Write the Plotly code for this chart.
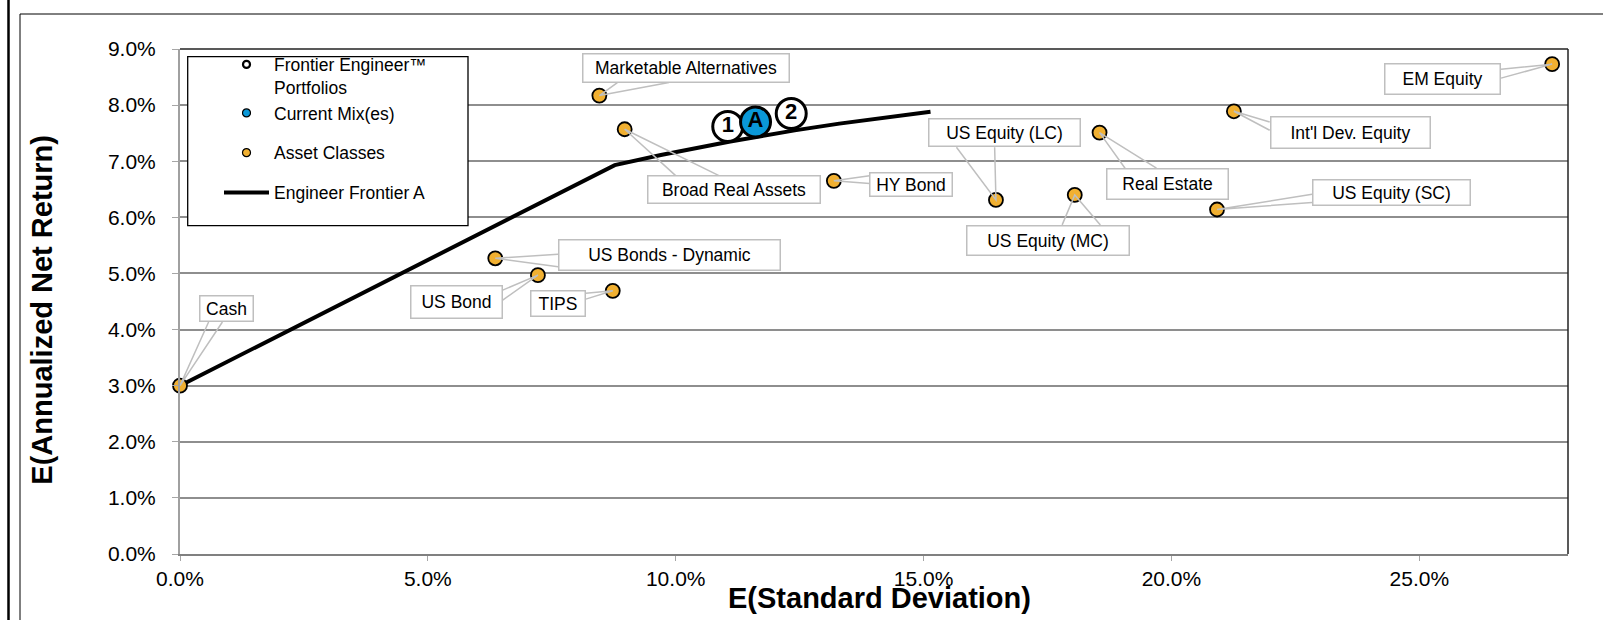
import plotly.graph_objects as go

# ---------------- data ----------------
asset_names = ["Cash", "US Bond", "US Bonds - Dynamic", "TIPS", "Marketable Alternatives",
               "Broad Real Assets", "HY Bond", "US Equity (LC)", "US Equity (MC)",
               "Real Estate", "US Equity (SC)", "Int'l Dev. Equity", "EM Equity"]
asset_sd = [0.0000, 0.0722, 0.0636, 0.0873, 0.0846, 0.0897, 0.1319, 0.1646, 0.1805,
            0.1855, 0.2092, 0.2126, 0.2768]
asset_ret = [0.0300, 0.0497, 0.0527, 0.0469, 0.0817, 0.0757, 0.0665, 0.0631, 0.0640,
             0.0751, 0.0614, 0.0789, 0.0873]

portfolio_labels = ["1", "2"]
portfolio_sd = [0.1105, 0.1233]
portfolio_ret = [0.0762, 0.0785]

mix_labels = ["A"]
mix_sd = [0.1161]
mix_ret = [0.0770]

frontier_sd = [0.0000, 0.0877, 0.0970, 0.1110, 0.1240, 0.1330, 0.1514]
frontier_ret = [0.0300, 0.0693, 0.0711, 0.0735, 0.0755, 0.0767, 0.0788]

legend_names = ["Frontier Engineer™<br>Portfolios", "Current Mix(es)", "Asset Classes",
                "Engineer Frontier A<br> "]

x_title = "E(Standard Deviation)"
y_title = "E(Annualized Net Return)"

# ---------------- styling / layout (pixel offsets for callouts) ----------------
ORANGE = "#F1B031"
BLUE = "#0A98D8"
FONT = "Liberation Sans, Arial, sans-serif"

# label box: centre offset (dx, dy screen px), box size (w, h), wedge base points (screen px)
callouts = {
    "Cash": ((46.9, -77.0), (55, 27), ((28.6, -63.7), (42.4, -63.7))),
    "US Bond": ((-81.6, 27.0), (93, 34), ((-35.2, 15.0), (-35.2, 25.0))),
    "US Bonds - Dynamic": ((174.2, -3.3), (223, 32), ((62.8, -4.0), (62.8, 8.4))),
    "TIPS": ((-54.8, 12.2), (56, 27), ((-27.0, 2.3), (-27.0, 8.3))),
    "Marketable Alternatives": ((86.8, -27.8), (208, 30), ((18.0, -13.0), (69.6, -13.0))),
    "Broad Real Assets": ((109.7, 60.5), (174, 29), ((51.0, 46.4), (94.3, 46.4))),
    "HY Bond": ((77.5, 3.5), (84, 25), ((35.7, -5.0), (35.7, 2.6))),
    "US Equity (LC)": ((8.8, -67.2), (153, 29), ((-39.5, -52.7), (-1.3, -52.7))),
    "US Equity (MC)": ((-27.2, 45.5), (164, 31), ((-12.6, 30.0), (25.6, 30.0))),
    "Real Estate": ((67.9, 51.5), (123, 32), ((25.5, 35.6), (56.9, 35.6))),
    "US Equity (SC)": ((174.7, -16.8), (159, 27), ((95.1, -15.3), (95.1, -7.0))),
    "Int'l Dev. Equity": ((116.6, 21.5), (161, 33), ((35.8, 10.7), (35.8, 19.0))),
    "EM Equity": ((-109.4, 15.2), (117, 32), ((-51.1, 5.0), (-51.1, 14.0))),
}

W, H = 1603, 620
ML, MR, MT, MB = 180, 35, 49, 66
PW, PH = W - ML - MR, H - MT - MB


def px_to_paper_x(px):
    return (px - ML) / PW


def px_to_paper_y(py):
    return (H - MB - py) / PH


fig = go.Figure()

# frontier line
fig.add_trace(go.Scatter(x=frontier_sd, y=frontier_ret, mode="lines",
                         line=dict(color="black", width=4), showlegend=False,
                         hoverinfo="skip"))

# asset classes
fig.add_trace(go.Scatter(x=asset_sd, y=asset_ret, mode="markers", text=asset_names,
                         marker=dict(size=14, color=ORANGE, line=dict(color="black", width=1.8)),
                         showlegend=False, cliponaxis=False))

# portfolios
fig.add_trace(go.Scatter(x=portfolio_sd, y=portfolio_ret, mode="markers+text",
                         text=portfolio_labels, textposition="middle center",
                         textfont=dict(family=FONT, size=22, color="black", weight="bold"),
                         marker=dict(size=30, color="white", line=dict(color="black", width=3)),
                         showlegend=False))

# current mix
fig.add_trace(go.Scatter(x=mix_sd, y=mix_ret, mode="markers+text",
                         text=mix_labels, textposition="middle center",
                         textfont=dict(family=FONT, size=22, color="black", weight="bold"),
                         marker=dict(size=30, color=BLUE, line=dict(color="black", width=3)),
                         showlegend=False))

# legend proxies
fig.add_trace(go.Scatter(x=[None], y=[None], mode="markers", name=legend_names[0],
                         legendgroup="g1",
                         marker=dict(size=7, color="white", line=dict(color="black", width=2.2))))
fig.add_trace(go.Scatter(x=[None], y=[None], mode="markers", name=legend_names[1],
                         legendgroup="g1",
                         marker=dict(size=8, color=BLUE, line=dict(color="black", width=1.2))))
fig.add_trace(go.Scatter(x=[None], y=[None], mode="markers", name=legend_names[2],
                         legendgroup="g2",
                         marker=dict(size=8, color=ORANGE, line=dict(color="black", width=1.2))))
fig.add_trace(go.Scatter(x=[None], y=[None], mode="lines", name=legend_names[3],
                         legendgroup="g3", line=dict(color="black", width=4)))

shapes = []
annotations = []

# callouts
for name, sd, ret in zip(asset_names, asset_sd, asset_ret):
    (dx, dy), (bw, bh), (a, b) = callouts[name]
    shapes.append(dict(type="path", xref="x", yref="y", xsizemode="pixel", ysizemode="pixel",
                       xanchor=sd, yanchor=ret, layer="above",
                       path=f"M{a[0]},{-a[1]} L0,0 L{b[0]},{-b[1]}",
                       line=dict(color="#BFBFBF", width=1.5)))
    annotations.append(dict(x=sd, y=ret, xref="x", yref="y", text=name, showarrow=False,
                            xshift=dx, yshift=-dy, width=bw - 3, height=bh - 3,
                            align="center", valign="middle",
                            bgcolor="white", bordercolor="#BFBFBF", borderwidth=1.5,
                            borderpad=0, font=dict(family=FONT, size=17.5, color="black")))

# legend box
shapes.append(dict(type="rect", xref="paper", yref="paper",
                   x0=px_to_paper_x(187.7), x1=px_to_paper_x(468),
                   y0=px_to_paper_y(225.7), y1=px_to_paper_y(56.7),
                   fillcolor="white", line=dict(color="black", width=1.3), layer="above"))

# plot area top and right borders
shapes.append(dict(type="line", xref="paper", yref="paper", x0=0, x1=1, y0=1, y1=1,
                   line=dict(color="#222222", width=1.5), layer="above"))
shapes.append(dict(type="line", xref="paper", yref="paper", x0=1, x1=1, y0=0, y1=1,
                   line=dict(color="#222222", width=1.5), layer="above"))

# outer chart frame
shapes.append(dict(type="line", xref="paper", yref="paper",
                   x0=px_to_paper_x(8.5), x1=px_to_paper_x(8.5),
                   y0=px_to_paper_y(0), y1=px_to_paper_y(H),
                   line=dict(color="black", width=2.5)))
shapes.append(dict(type="line", xref="paper", yref="paper",
                   x0=px_to_paper_x(20), x1=px_to_paper_x(20),
                   y0=px_to_paper_y(14), y1=px_to_paper_y(H),
                   line=dict(color="black", width=1)))
shapes.append(dict(type="line", xref="paper", yref="paper",
                   x0=px_to_paper_x(20), x1=px_to_paper_x(W),
                   y0=px_to_paper_y(14), y1=px_to_paper_y(14),
                   line=dict(color="black", width=1)))

# axis titles
annotations.append(dict(text=x_title, xref="paper", yref="paper",
                        x=px_to_paper_x(879), y=px_to_paper_y(598),
                        xanchor="center", yanchor="middle", showarrow=False,
                        font=dict(family=FONT, size=29, color="black", weight="bold")))
annotations.append(dict(text=y_title, xref="paper", yref="paper",
                        x=px_to_paper_x(41.7), y=px_to_paper_y(310),
                        xanchor="center", yanchor="middle", showarrow=False, textangle=-90,
                        font=dict(family=FONT, size=29, color="black", weight="bold")))

fig.update_layout(
    width=W, height=H,
    margin=dict(l=ML, r=MR, t=MT, b=MB),
    paper_bgcolor="white", plot_bgcolor="white",
    font=dict(family=FONT, color="black"),
    shapes=shapes, annotations=annotations,
    showlegend=True,
    legend=dict(x=px_to_paper_x(219), y=px_to_paper_y(46.5), xanchor="left", yanchor="top",
                bgcolor="rgba(0,0,0,0)", borderwidth=0, itemwidth=45,
                tracegroupgap=14, valign="top",
                font=dict(family=FONT, size=17.5, color="black")),
    xaxis=dict(range=[0, 0.28], dtick=0.05, tick0=0, tickformat=".1%",
               showgrid=False, zeroline=False,
               showline=True, linecolor="#808080", linewidth=2,
               ticks="outside", ticklen=5, tickcolor="#A6A6A6", tickwidth=1,
               ticklabelstandoff=0,
               tickfont=dict(family=FONT, size=21, color="black")),
    yaxis=dict(range=[0, 0.09], dtick=0.01, tick0=0, tickformat=".1%",
               showgrid=True, gridcolor="#8E8E8E", gridwidth=2, zeroline=False,
               showline=True, linecolor="#A0A0A0", linewidth=2,
               ticks="outside", ticklen=6, tickcolor="#A6A6A6", tickwidth=1,
               ticklabelstandoff=12,
               tickfont=dict(family=FONT, size=21, color="black")),
)

fig.write_html("out.html")
